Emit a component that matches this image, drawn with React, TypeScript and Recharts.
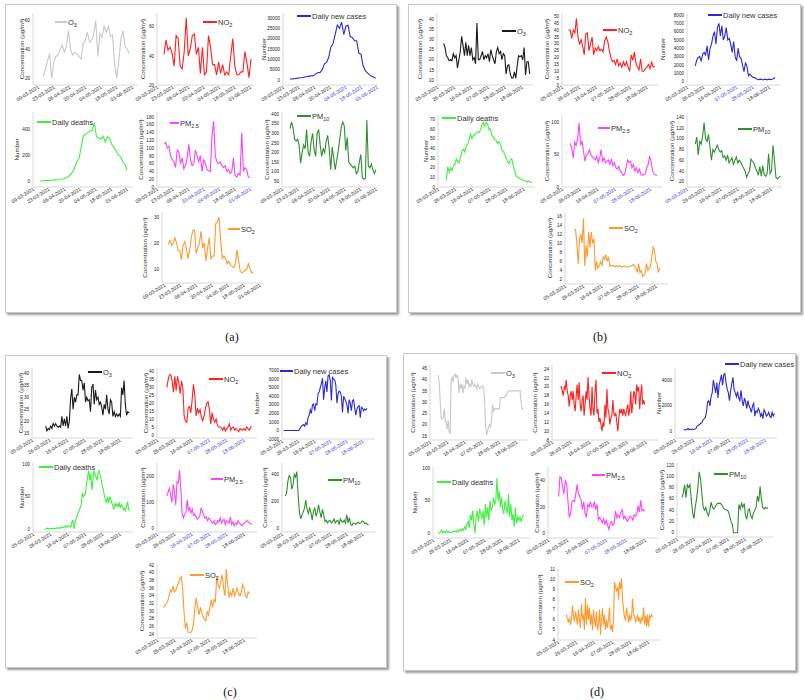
import React from 'react';
import { LineChart, Line, XAxis, YAxis } from 'recharts';

// ---------- tick labels ----------
const A_DAYS = [0, 14, 28, 42, 56, 70, 84];
const A_LABELS = ['09-03-2021', '23-03-2021', '06-04-2021', '20-04-2021', '04-05-2021', '18-05-2021', '01-06-2021'];
const B_DAYS = [0, 21, 42, 63, 84, 105];
const B_LABELS = ['05-03-2021', '26-03-2021', '16-04-2021', '07-05-2021', '28-05-2021', '18-06-2021'];

// ---------- panel (a) ----------
const aO3 = [21,26,32,37,20,31,35,36,40,43,38,42,53,40,36,38,37,35,33,44,46,52,45,46,50,60,35,51,48,56,52,56,49,50,30,20,32,47,53,42,40,37];
const aNO2 = [41,51,44,46,42,33,54,52,33,31,43,66,40,45,54,55,41,46,28,46,27,29,54,46,34,34,27,36,28,34,27,29,27,40,52,33,27,27,29,29,43,35,25,38];
const aCases = [500,550,650,800,1000,1100,1200,1500,1700,1900,2000,2100,3000,3600,3700,5000,7800,8500,11000,16000,17500,22000,26500,25000,28000,22000,26000,26500,21000,20500,19000,19000,13000,12500,7000,4500,3500,2500,1800,1300,800];
const aDeaths = [0,2,3,4,5,6,7,9,10,12,15,18,25,35,50,70,105,150,175,270,350,360,370,385,390,445,340,330,320,345,300,340,330,280,260,230,200,190,150,130,85];
const aPM25 = [110,115,100,105,80,70,65,50,95,90,60,75,47,55,75,110,70,55,60,95,80,65,80,40,70,60,45,42,40,130,170,80,65,60,65,55,50,55,40,45,35,40,75,30,25,35,30,140,40,50,45,25,25];
const aPM10 = [325,360,330,270,260,270,240,145,200,240,220,320,200,180,260,300,215,180,300,320,240,180,220,200,260,290,220,110,230,170,110,160,210,270,330,360,340,210,280,150,140,130,120,130,90,100,150,190,70,60,65,370,130,120,140,110,90,110];
const aSO2 = [19.5,21,19,20,22,20,17,17,13.5,19,20.5,18,14,17,22,25,25,16,18,20,24.5,18,20,13,18,22,14,15,15,27.5,28,30,21,14,15,14,12,13,11.5,11,10.5,12,17.5,13,9,8.5,9,9.5,10,12,10,8.5,8.5];

// ---------- panel (b) ----------
const bO3 = [28,26,22,21,19.5,20,19.5,23,21,22,16,20,24,31.5,27,22,28.5,22,27,22,26,20,21,18,38,20,20,22,24,20,22,21,23,19,25,22,20,18,24,26,23,24,20,23,22,13,17,17.5,13,11,11,14,11,17,22,21.5,22,20,26,12.5,19,19,13];
const bNO2 = [40,40,34,40,38,48.5,35,30,33,28,22,37.5,38,25,30,35,22,27,25,28,25,26,24,32,35,32,25,20,17,18,15,19,14,16,13,17,14,17,13,10,22,18,24,16,13,11,19,10,10,12,13,15,12,17,13,14];
const bCases = [1900,2600,2900,3000,2500,3300,3500,3200,4300,2600,4000,4500,5500,6000,4500,6500,7000,5500,6700,5000,5500,6500,5000,5200,4500,3500,4800,3000,2500,4000,3000,2800,2000,1200,2300,1800,700,900,700,500,500,400,300,250,300,250,200,300,250,250,300,250,300,350,500];
const bDeaths = [7,21,15,20,17,22,23,29,26,25,31,37,39,36,43,44,49,55,50,53,54,56,57,56,59,64,67,63,67,65,59,60,53,52,49,48,45,47,44,38,37,34,30,26,24,28,29,22,17,12,10,10,8,8,7,7,6,5,6,5,5];
const bPM25 = [68,60,45,70,65,75,100,65,72,55,40,50,52,58,50,47,45,42,48,38,45,58,40,45,38,40,42,35,44,33,38,30,28,32,25,22,18,20,30,42,38,40,30,35,25,30,22,28,20,18,19,20,30,35,48,40,25,20,19,18];
const bPM10 = [90,103,70,95,90,105,130,100,95,108,85,60,80,75,82,88,80,75,78,65,68,60,70,55,60,65,52,60,66,55,60,56,50,45,40,28,35,40,62,58,55,45,40,32,48,30,50,33,30,35,72,35,40,88,60,28,25,28,30];
const bSO2 = [13,13,10,5.5,11,12,10,15.5,5,9.5,7,12.5,9,12.5,10,11,4,6,4.5,5,6,5,7,6.5,7.5,6,7,5,5,5,5,4.8,5,5,4.9,5,4.7,4.8,5,4.8,4.7,4.8,4.9,5,5.1,5.3,5,4.5,3.5,5.5,3.5,4,2.7,3,3.5,5.5,4,4.5,5,7,9.2,8.5,6,5.5,3.5,4.5];

// ---------- panel (c) ----------
const cO3 = [18,16,17,16.5,18,17,19,18,19,18,17.5,18,17.5,22,18,21,18,22,17,20,29.5,33.5,25,30,28,31,31,39.5,37,37,33,36,28,30,28.5,29,24,34,35.5,27,33,29,30,27,28,26,22.5,27,25,31,25,23,29,28,22,24,22,23,22,23,22,34,31,37,27,22.5,24,23.5];
const cNO2 = [30,35,38,38,34,27,37,28,37,33,26,34,30,12,9,8,17,18,14,22,32,25,12,17,14,16,11,9,12,17,20,21,16,7,14,10,8,10,6,5,5,4.5,3,5,2.5,4,5,7,3,4.5,5,3,4,3,2,4,3.5,3,4,3,5,4,3,5,5];
const cCases = [0,0,0,0,0,0,0,0,0,0,0,0,0,0,50,300,500,600,700,500,900,700,1500,1800,2400,2000,3000,3100,2300,3100,3000,4300,4500,5000,5500,6100,3600,5000,5800,4500,6400,6500,5800,3500,6200,6000,5900,5300,3200,4300,4600,4500,4000,2100,4000,3700,3400,3000,2000,3600,3200,2300,3500,3600,2600,1800,2500,2800,2900,1500,2700,2600,2300,2500,2400,2600];
const cDeaths = [0,0,1,1,0,1,1,0,1,0,1,1,2,1,2,1,3,2,3,4,2,5,3,4,5,3,10,14,0,8,15,20,25,28,33,38,55,50,52,55,70,80,90,75,85,60,75,90,85,80,75,87,90,82,75,65,60,50,45,40,50,40,50,45,40,35,30,40,35,38,35,40,32,38,35,30,32,28,35,42,30,28];
const cPM25 = [125,140,155,130,100,170,145,90,180,175,225,150,60,40,55,60,110,70,80,60,75,50,55,45,35,40,50,80,65,50,40,45,30,40,35,25,20,30,15,20,30,25,40,20,30,35,15,30,25,20,45,15,25,10,20,15,30,20,15,10,15,20,25,30,25,20,18,15];
const cPM10 = [240,260,350,390,380,290,320,400,380,420,250,120,70,100,120,150,210,140,110,150,120,60,130,150,90,120,175,120,80,140,100,50,60,40,55,60,40,50,70,40,55,60,30,70,50,45,60,40,100,40,80,30,20,40,35,30,40,45,35,40,55,50,35,40,30,25];
const cSO2 = [31,31.5,32,32.5,34,35.5,35,36.5,35,35.5,36.5,37.5,38.5,39,36,30,25.5,27,24.5,24.5,24.5,25,27,31,33.5,31,29,31,29.5,28.5,28,27.5,30,29,31,33,31,33,32.5,39,37,36,38,39.5,36,34,41,37,33.5,35,34,36,34,35,36,34.5,34,35,37,36,34,33.5,35,34.5];

// ---------- panel (d) ----------
const dO3 = [42,38,30,22.5,22.5,23,27,22,21,18,22,17,16,40,41,39,42,42.5,41,42,41,34,38,36,38,34,37,36,41,38,40,37,38,37,40,38,37,38,37,36,38,37,36,36.5,37,37,36,30,20,15.5,17,19,20,19,22,29,26,27,27,27,27,27,27,32,32,32,32,32,33,33,34,35,35,35,35,35,35,35,35,35,35,35,35,35,30,27,27];
const dNO2 = [20,20,19,18,20,19.5,21.5,19,18,15.5,18,19,17,19,16,14.5,18,20.5,17,21,16,14.5,17,18,13.5,16,19,17,22.2,18,15,13.5,20,15,13.5,19,21.5,14,15,12,13,11.5,10,12,11,16,13,19.5,15,14,11.5,13,13.5,17,14,13.5,14,12,10,13,15,14,15,13.5,15,14,13.5,15,16,13.5,15,19,14,16,19,18.5,16,20.5,19,20,15,18,20.5,16,17,16];
const dCases = [150,150,150,150,250,150,200,150,200,180,200,250,450,500,550,650,700,900,1000,1100,1500,2300,2400,2000,2700,3000,4000,3500,3000,3800,2600,3600,4000,4400,3600,4400,4500,3800,3300,3000,2400,3200,3700,4200,3300,3000,2700,3100,2600,2400,3200,2400,2000,2600,2300,1800,2400,2000,1800,1500,2000,2200,1200,1600,1500,1800,1600,1200,1400,1000,1700,1500,1200,1300,1500,1200,1100,1500,1200,1400];
const dDeaths = [0,0,2,5,1,3,1,4,1,3,1,2,1,3,2,4,2,5,3,6,4,7,5,10,6,14,18,8,28,20,35,15,0,25,35,18,38,30,22,35,12,45,25,40,20,50,35,40,55,45,48,85,50,65,40,55,35,30,50,40,30,60,25,45,20,30,10,40,15,25,20,25,18,25,30];
const dPM25 = [28,43,42,35,30,40,38,25,12,15,24,25,24,30,37,30,28,25,18,24,15,12,22,20,24,20,20,24,18,22,10,12,10,8,11,7,10,6,3,8,9,6,8,17,12,14,12,16,18,11,13,11,9,11,13,12,10,14,13,14,21,16,25,17,18,17];
const dPM10 = [62,70,85,62,85,80,85,60,35,25,45,60,80,108,95,70,45,40,45,35,30,40,54,45,42,45,50,52,52,52,50,45,42,41,40,38,30,20,15,0,0,0,0,50,42,52,45,52,30,25,40,42,30,25,35,40,45,65,55,82,60,45,42,45,43,44];
const dSO2 = [6.5,6,5.8,6.2,5.5,6,7.4,6.5,5.8,6.8,6.2,5.5,7,6,5.2,7.5,6,6.5,5,8.2,5.5,7.5,6,7.2,5.5,6.5,5,7,6,5.3,6.8,5,5.5,7,4.5,6,7.1,5.5,6.5,5,6,5.2,6,7.2,5,5.5,4.8,6,9.7,9.2,8.8,9.3,8,9.7,9,10.1,8,7,6.2,6,7.2,6.5,5.7,6.5,6,6.3,8.1,6.5,6.3,5.8,6,6.5,5.8,6.2,5.6,6.2,6,7.2,5.5,6.4,5.3,6.5,5.3,6.4,6.2,6.5,6.3];

// ---------- styling ----------
const GRAY = '#c8c8c8';
const BLACK = '#1a1a1a';
const RED = '#ff2020';
const BLUE = '#2a2ad8';
const LIME = '#40f040';
const MAGENTA = '#ff40ff';
const GREEN = '#2f8f2f';
const ORANGE = '#ff9a2e';
const CONC = 'Concentration (µg/m³)';
const NUM = 'Number';

const range = (a: number, b: number, s: number) => {
  const r: number[] = [];
  for (let v = a; v <= b + 1e-9; v += s) r.push(Math.round(v * 100) / 100);
  return r;
};

type Cfg = {
  x: number; y: number; w: number; h: number; labelX: number; yLabel: string;
  values: number[]; start: number; end: number; xDomain: [number, number];
  days: number[]; labels: string[]; blue?: number[];
  yDomain: [number, number]; yTicks: number[]; color: string;
  leg: React.ReactNode; legX: number; legY: number; legW?: number;
};

const S = (t: string) => (
  <span style={{ fontSize: 5.5, position: 'relative', top: 2 }}>{t}</span>
);

const ML = 34, MT = 6, MR = 6, MB = 34;
const FONT = 'Liberation Sans, Arial, sans-serif';

function DateTick(props: any) {
  const { x, y, payload, labels, days, blue } = props;
  const i = days.indexOf(payload.value);
  const tx = x + 1.5, ty = y + 1;
  return (
    <text x={tx} y={ty} transform={`rotate(-32 ${tx} ${ty})`} textAnchor="end" fontSize={5}
      fontFamily={FONT} fill={blue && blue.includes(i) ? '#3434c8' : '#222'}>
      {labels[i] ?? ''}
    </text>
  );
}

function Mini({ c }: { c: Cfg }) {
  const n = c.values.length;
  const data = c.values.map((v, i) => ({ d: c.start + (i * (c.end - c.start)) / (n - 1), v }));
  const left = c.x - ML, top = c.y - MT;
  return (
    <>
      <div style={{ position: 'absolute', left, top }}>
        <LineChart width={c.w + ML + MR} height={c.h + MT + MB} data={data}
          margin={{ top: MT, right: MR, left: 0, bottom: 0 }}>
          <XAxis dataKey="d" type="number" domain={c.xDomain} ticks={c.days} interval={0}
            height={MB} tickLine={false} tickSize={2} tickMargin={0} stroke="#d8d8d8" allowDataOverflow
            tick={(p: any) => <DateTick {...p} labels={c.labels} days={c.days} blue={c.blue} />} />
          <YAxis type="number" width={ML} domain={c.yDomain} ticks={c.yTicks} interval={0}
            tickLine={false} tickSize={2} tickMargin={1} stroke="#d8d8d8" allowDataOverflow
            tick={{ fontSize: 4.6, fill: '#222', fontFamily: FONT }}
            label={{ value: c.yLabel, angle: -90, position: 'insideLeft', offset: c.labelX - left,
              style: { textAnchor: 'middle', fontSize: 6.2, fill: '#333', fontFamily: FONT } }} />
          <Line type="linear" dataKey="v" stroke={c.color} strokeWidth={1.1} dot={false} isAnimationActive={false} />
        </LineChart>
      </div>
      <div style={{ position: 'absolute', left: c.legX, top: c.legY - 6, height: 12, display: 'flex',
        alignItems: 'center', fontSize: 7.5, color: '#333', whiteSpace: 'nowrap', fontFamily: FONT }}>
        <span style={{ display: 'inline-block', width: c.legW ?? 14, height: 1.5, background: c.color, marginRight: 1 }} />
        <span>{c.leg}</span>
      </div>
    </>
  );
}

const A_X: [number, number] = [0, 86.7];
const BD_X: [number, number] = [0, 119];
const C_X: [number, number] = [0, 121];

const charts: Cfg[] = [
  // (a)
  { x: 33, y: 13, w: 104, h: 72, labelX: 22, yLabel: CONC, values: aO3, start: 4.7, end: 81.5, xDomain: [-4.5, 88.4], days: A_DAYS, labels: A_LABELS,
    yDomain: [15.2, 65.3], yTicks: [20, 40, 60], color: GRAY, leg: <>O{S('3')}</>, legX: 55, legY: 22, legW: 12 },
  { x: 157, y: 13, w: 96, h: 72, labelX: 143, yLabel: CONC, values: aNO2, start: 6.3, end: 84.9, xDomain: A_X, days: A_DAYS, labels: A_LABELS,
    yDomain: [20, 69.5], yTicks: [20, 40, 60], color: RED, leg: <>NO{S('2')}</>, legX: 203, legY: 22 },
  { x: 283, y: 13, w: 95, h: 72, labelX: 264, yLabel: NUM, values: aCases, start: 6.3, end: 83.2, xDomain: [0, 85], days: A_DAYS, labels: A_LABELS, blue: [4, 5, 6],
    yDomain: [-2400, 32400], yTicks: range(0, 30000, 5000), color: BLUE, leg: <>Daily new cases</>, legX: 297, legY: 16 },
  { x: 33, y: 112, w: 100, h: 75, labelX: 17, yLabel: NUM, values: aDeaths, start: 6.3, end: 84.1, xDomain: [0, 89.5], days: A_DAYS, labels: A_LABELS,
    yDomain: [-46, 530], yTicks: [0, 200, 400], color: LIME, leg: <>Daily deaths</>, legX: 37, legY: 122 },
  { x: 157, y: 112, w: 96, h: 75, labelX: 141, yLabel: CONC, values: aPM25, start: 6.3, end: 84, xDomain: A_X, days: A_DAYS, labels: A_LABELS, blue: [3, 4, 6],
    yDomain: [0, 193], yTicks: range(0, 180, 20), color: MAGENTA, leg: <>PM{S('2.5')}</>, legX: 170, legY: 123, legW: 9 },
  { x: 282, y: 112, w: 95, h: 75, labelX: 267, yLabel: CONC, values: aPM10, start: 7.2, end: 84, xDomain: [0, 85], days: A_DAYS, labels: A_LABELS,
    yDomain: [20, 412], yTicks: range(50, 400, 50), color: GREEN, leg: <>PM{S('10')}</>, legX: 297, legY: 116 },
  { x: 162, y: 212, w: 101, h: 71, labelX: 145, yLabel: CONC, values: aSO2, start: 3.6, end: 78.5, xDomain: [-2, 87], days: A_DAYS, labels: A_LABELS,
    yDomain: [4.6, 31.9], yTicks: [10, 20, 30], color: ORANGE, leg: <>SO{S('2')}</>, legX: 228, legY: 229, legW: 12 },
  // (b)
  { x: 437, y: 13, w: 96, h: 72, labelX: 420, yLabel: CONC, values: bO3, start: 8.2, end: 114.9, xDomain: BD_X, days: B_DAYS, labels: B_LABELS,
    yDomain: [7.6, 42.9], yTicks: range(10, 40, 5), color: BLACK, leg: <>O{S('3')}</>, legX: 502, legY: 31 },
  { x: 562, y: 13, w: 96, h: 72, labelX: 547, yLabel: CONC, values: bNO2, start: 8.2, end: 114.9, xDomain: BD_X, days: B_DAYS, labels: B_LABELS,
    yDomain: [0, 52.5], yTicks: range(0, 50, 5), color: RED, leg: <>NO{S('2')}</>, legX: 603, legY: 30 },
  { x: 687, y: 13, w: 93, h: 72, labelX: 663, yLabel: NUM, values: bCases, start: 10.6, end: 112.6, xDomain: BD_X, days: B_DAYS, labels: B_LABELS, blue: [3, 4],
    yDomain: [-400, 8240], yTicks: range(0, 8000, 1000), color: BLUE, leg: <>Daily new cases</>, legX: 708, legY: 15 },
  { x: 438, y: 115, w: 97, h: 72, labelX: 426, yLabel: NUM, values: bDeaths, start: 10.3, end: 114.9, xDomain: BD_X, days: B_DAYS, labels: B_LABELS,
    yDomain: [0, 74.4], yTicks: range(0, 70, 10), color: LIME, leg: <>Daily deaths</>, legX: 442, legY: 118 },
  { x: 562, y: 115, w: 100, h: 72, labelX: 547, yLabel: CONC, values: bPM25, start: 9.9, end: 113, xDomain: BD_X, days: B_DAYS, labels: B_LABELS, blue: [3, 4, 5],
    yDomain: [0, 112], yTicks: [0, 50, 100], color: MAGENTA, leg: <>PM{S('2.5')}</>, legX: 598, legY: 128, legW: 12 },
  { x: 687, y: 115, w: 95, h: 72, labelX: 672, yLabel: CONC, values: bPM10, start: 10.4, end: 116.9, xDomain: BD_X, days: B_DAYS, labels: B_LABELS, blue: [0],
    yDomain: [10, 144.3], yTicks: range(20, 140, 20), color: GREEN, leg: <>PM{S('10')}</>, legX: 738, legY: 129 },
  { x: 565, y: 212, w: 103, h: 72, labelX: 550, yLabel: CONC, values: bSO2, start: 10.7, end: 109.4, xDomain: BD_X, days: B_DAYS, labels: B_LABELS,
    yDomain: [1, 16.9], yTicks: range(2, 16, 2), color: ORANGE, leg: <>SO{S('2')}</>, legX: 609, legY: 228 },
  // (c)
  { x: 32, y: 368, w: 101, h: 70, labelX: 21, yLabel: CONC, values: cO3, start: 16.4, end: 116.3, xDomain: C_X, days: B_DAYS, labels: B_LABELS,
    yDomain: [13, 42.2], yTicks: range(15, 40, 5), color: BLACK, leg: <>O{S('3')}</>, legX: 88, legY: 372 },
  { x: 157, y: 368, w: 100, h: 70, labelX: 146, yLabel: CONC, values: cNO2, start: 11.9, end: 115, xDomain: C_X, days: B_DAYS, labels: B_LABELS, blue: [3, 4, 5],
    yDomain: [-1.9, 42.3], yTicks: range(0, 40, 5), color: RED, leg: <>NO{S('2')}</>, legX: 209, legY: 379 },
  { x: 282, y: 368, w: 93, h: 71, labelX: 257, yLabel: NUM, values: cCases, start: 2.1, end: 110.5, xDomain: C_X, days: B_DAYS, labels: B_LABELS, blue: [3, 4, 5],
    yDomain: [-1000, 7300], yTicks: range(-1000, 7000, 1000), color: BLUE, leg: <>Daily new cases</>, legX: 280, legY: 371, legW: 13 },
  { x: 33, y: 463, w: 100, h: 69, labelX: 22, yLabel: NUM, values: cDeaths, start: 13.9, end: 117, xDomain: C_X, days: B_DAYS, labels: B_LABELS,
    yDomain: [-4.6, 101.5], yTicks: [0, 50, 100], color: LIME, leg: <>Daily deaths</>, legX: 39, legY: 467 },
  { x: 157, y: 463, w: 100, h: 69, labelX: 143, yLabel: CONC, values: cPM25, start: 11.9, end: 115, xDomain: C_X, days: B_DAYS, labels: B_LABELS, blue: [2, 3, 4],
    yDomain: [-14, 253], yTicks: [0, 100, 200], color: MAGENTA, leg: <>PM{S('2.5')}</>, legX: 211, legY: 479, legW: 12 },
  { x: 282, y: 463, w: 93, h: 69, labelX: 265, yLabel: CONC, values: cPM10, start: 4.3, end: 112.6, xDomain: C_X, days: B_DAYS, labels: B_LABELS,
    yDomain: [-27, 484], yTicks: [0, 200, 400], color: GREEN, leg: <>PM{S('10')}</>, legX: 328, legY: 480 },
  { x: 157, y: 564, w: 100, h: 74, labelX: 142, yLabel: CONC, values: cSO2, start: 7.9, end: 111.9, xDomain: C_X, days: B_DAYS, labels: B_LABELS,
    yDomain: [23, 42.3], yTicks: range(24, 42, 2), color: ORANGE, leg: <>SO{S('2')}</>, legX: 190, legY: 575 },
  // (d)
  { x: 430, y: 365, w: 98, h: 75, labelX: 413, yLabel: CONC, values: dO3, start: 10.1, end: 113, xDomain: BD_X, days: B_DAYS, labels: B_LABELS,
    yDomain: [13.2, 46.5], yTicks: range(15, 45, 5), color: GRAY, leg: <>O{S('3')}</>, legX: 491, legY: 373 },
  { x: 552, y: 365, w: 106, h: 75, labelX: 535, yLabel: CONC, values: dNO2, start: 9.3, end: 104, xDomain: BD_X, days: B_DAYS, labels: B_LABELS,
    yDomain: [8, 24.9], yTicks: range(8, 24, 2), color: RED, leg: <>NO{S('2')}</>, legX: 602, legY: 373 },
  { x: 675, y: 368, w: 102, h: 70, labelX: 659, yLabel: NUM, values: dCases, start: 9.8, end: 116, xDomain: BD_X, days: B_DAYS, labels: B_LABELS, blue: [2, 4, 5],
    yDomain: [-490, 4930], yTicks: [0, 2000, 4000], color: BLUE, leg: <>Daily new cases</>, legX: 725, legY: 364 },
  { x: 433, y: 467, w: 97, h: 71, labelX: 415, yLabel: NUM, values: dDeaths, start: 6.2, end: 111, xDomain: BD_X, days: B_DAYS, labels: B_LABELS,
    yDomain: [-7.2, 102], yTicks: [0, 50, 100], color: LIME, leg: <>Daily deaths</>, legX: 437, legY: 482 },
  { x: 548, y: 467, w: 110, h: 71, labelX: 537, yLabel: CONC, values: dPM25, start: 11.5, end: 104.6, xDomain: BD_X, days: B_DAYS, labels: B_LABELS, blue: [3, 4],
    yDomain: [-3.6, 50.4], yTicks: [0, 20, 40], color: MAGENTA, leg: <>PM{S('2.5')}</>, legX: 592, legY: 475, legW: 13 },
  { x: 677, y: 463, w: 96, h: 74, labelX: 662, yLabel: CONC, values: dPM10, start: 6.2, end: 112.8, xDomain: BD_X, days: B_DAYS, labels: B_LABELS,
    yDomain: [-7.6, 123.5], yTicks: range(0, 120, 20), color: GREEN, leg: <>PM{S('10')}</>, legX: 714, legY: 474 },
  { x: 558, y: 569, w: 102, h: 71, labelX: 540, yLabel: CONC, values: dSO2, start: 9.8, end: 110.4, xDomain: BD_X, days: B_DAYS, labels: B_LABELS,
    yDomain: [4, 11], yTicks: range(4, 11, 1), color: ORANGE, leg: <>SO{S('2')}</>, legX: 565, legY: 582 },
];

const frames = [
  { l: 5, t: 4, r: 397, b: 313 },
  { l: 408, t: 4, r: 801, b: 313 },
  { l: 5, t: 355, r: 387, b: 668 },
  { l: 403, t: 353, r: 796, b: 671 },
];
const panelLabels = [
  { t: '(a)', x: 232, y: 337 },
  { t: '(b)', x: 600, y: 337 },
  { t: '(c)', x: 230, y: 692 },
  { t: '(d)', x: 597, y: 692 },
];

export default function App() {
  return (
    <div style={{ position: 'absolute', left: 0, top: 0, width: 804, height: 700, background: '#fff', overflow: 'hidden' }}>
      {frames.map((f, i) => (
        <div key={i} style={{ position: 'absolute', left: f.l, top: f.t, width: f.r - f.l, height: f.b - f.t,
          border: '1.5px solid #c8c8c8', boxShadow: '2px 2px 2px #9c9c9c', boxSizing: 'border-box', background: '#fff' }} />
      ))}
      {charts.map((c, i) => <Mini key={i} c={c} />)}
      {panelLabels.map((p) => (
        <div key={p.t} style={{ position: 'absolute', left: p.x - 20, top: p.y - 8, width: 40, textAlign: 'center',
          fontFamily: 'Liberation Serif, Times New Roman, serif', fontSize: 12, color: '#111', lineHeight: '16px' }}>{p.t}</div>
      ))}
    </div>
  );
}
